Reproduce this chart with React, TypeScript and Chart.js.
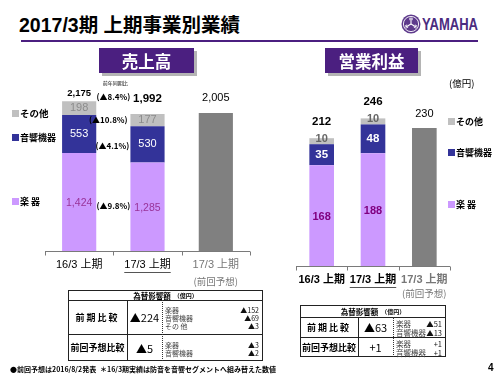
import React, { useEffect, useRef } from "react";
import { Chart, registerables } from "chart.js";

Chart.register(...registerables);

// ---------- data ----------
const categories = ["16/3 上期", "17/3 上期", "17/3 上期"];
const forecastNote = "(前回予想)";
const segmentNames = ["楽 器", "音響機器", "その他"];

const salesInstruments = [1424, 1285, null];
const salesAudio = [553, 530, null];
const salesOther = [198, 177, null];
const salesForecast = [null, null, 2005];
const salesTotals = [2175, 1992, 2005];
// year-on-year changes: total, other, audio, instruments
const salesYoY = ["(▲8.4%)", "(▲10.8%)", "(▲4.1%)", "(▲9.8%)"];

const profitInstruments = [168, 188, null];
const profitAudio = [35, 48, null];
const profitOther = [10, 10, null];
const profitForecast = [null, null, 230];
const profitTotals = [212, 246, 230];

const fxHeader = "為替影響額";
const fxUnit = "（億円）";
const salesFxLabels = ["前期比較", "前回予想比較"];
const salesFxValues = ["▲224", "▲5"];
const salesFxDetails = [
  [["楽器", "▲152"], ["音響機器", "▲69"], ["その 他", "▲3"]],
  [["楽器", "▲3"], ["音響機器", "▲2"]],
];
const profitFxLabels = ["前期比較", "前回予想比較"];
const profitFxValues = ["▲63", "+1"];
const profitFxDetails = [
  [["楽器", "▲51"], ["音響機器", "▲13"]],
  [["楽器", "+1"], ["音響機器", "+1"]],
];

// ---------- styles ----------
const C_INSTR = "#cc99ff";
const C_AUDIO = "#333399";
const C_OTHER = "#c0c0c0";
const C_FORE = "#808080";
const PURPLE = "#4b1f80";
const LAT = "'Liberation Sans', 'Noto Sans CJK JP', sans-serif";
const JP = "'Noto Sans CJK JP', 'Liberation Sans', sans-serif";

const fmt = (v: number) => v.toLocaleString("en-US");

type LabelCfg = {
  totals: number[];
  totalFonts: string[];
  totalOffsets: number[];
  segFonts: string[];
  segColors: string[];
  segDy: number[];
  catFont: string;
  catDy: number;
  noteDy: number;
  noteFont: string;
  extra?: (chart: any) => void;
};

function makeLabels(cfg: LabelCfg) {
  return {
    id: "customLabels",
    afterDatasetsDraw(chart: any) {
      const { ctx, chartArea } = chart;
      const xs = chart.scales.x;
      const ys = chart.scales.y;
      ctx.save();
      // axis line and tick marks
      const n = chart.data.labels.length;
      const step = (chartArea.right - chartArea.left) / n;
      const by = Math.round(chartArea.bottom) + 0.5;
      ctx.strokeStyle = "#7a7a7a";
      ctx.lineWidth = 1;
      ctx.beginPath();
      ctx.moveTo(chartArea.left, by);
      ctx.lineTo(chartArea.right, by);
      for (let i = 0; i <= n; i++) {
        const tx = Math.round(chartArea.left + i * step) + 0.5;
        ctx.moveTo(tx, by);
        ctx.lineTo(tx, by + 4);
      }
      ctx.stroke();

      ctx.textAlign = "center";
      ctx.textBaseline = "middle";
      // segment labels
      chart.data.datasets.forEach((ds: any, di: number) => {
        if (di >= cfg.segFonts.length) return;
        const meta = chart.getDatasetMeta(di);
        meta.data.forEach((el: any, i: number) => {
          const v = ds.data[i];
          if (v == null) return;
          ctx.font = cfg.segFonts[di];
          ctx.fillStyle = cfg.segColors[di];
          ctx.fillText(fmt(v), el.x, (el.y + el.base) / 2 + cfg.segDy[di]);
        });
      });
      // totals
      cfg.totals.forEach((t, i) => {
        ctx.font = cfg.totalFonts[i];
        ctx.fillStyle = "#000";
        ctx.fillText(fmt(t), xs.getPixelForValue(i), ys.getPixelForValue(t) - cfg.totalOffsets[i]);
      });
      // category labels
      chart.data.labels.forEach((lab: string, i: number) => {
        const cx = xs.getPixelForValue(i);
        const cy = chartArea.bottom + cfg.catDy;
        ctx.font = cfg.catFont;
        ctx.fillStyle = i === n - 1 ? "#777" : "#000";
        ctx.fillText(lab, cx, cy);
        if (i === 1) {
          const w = ctx.measureText(lab).width;
          ctx.strokeStyle = "#555";
          ctx.beginPath();
          ctx.moveTo(cx - w / 2, Math.round(cy + 7) + 0.5);
          ctx.lineTo(cx + w / 2, Math.round(cy + 7) + 0.5);
          ctx.stroke();
        }
        if (i === n - 1) {
          ctx.font = cfg.noteFont;
          ctx.fillStyle = "#777";
          ctx.fillText(forecastNote, cx, chartArea.bottom + cfg.noteDy);
        }
      });
      if (cfg.extra) cfg.extra(chart);
      ctx.restore();
    },
  };
}

function barDatasets(instr: any[], audio: any[], other: any[], fore: any[]) {
  return [
    { label: segmentNames[0], data: instr, backgroundColor: C_INSTR, stack: "s" },
    { label: segmentNames[1], data: audio, backgroundColor: C_AUDIO, stack: "s" },
    { label: segmentNames[2], data: other, backgroundColor: C_OTHER, stack: "s" },
    { label: forecastNote, data: fore, backgroundColor: C_FORE, stack: "s" },
  ];
}

function salesYoYDraw(chart: any) {
  const { ctx, chartArea } = chart;
  const ys = chart.scales.y;
  const step = (chartArea.right - chartArea.left) / chart.data.labels.length;
  const cx = chartArea.left + step - 1;
  const seg = (di: number) => {
    const el: any = chart.getDatasetMeta(di).data[1];
    return (el.y + el.base) / 2;
  };
  const yTot = ys.getPixelForValue(salesTotals[1]) - 17;
  ctx.fillStyle = "#000";
  ctx.font = `5px ${JP}`;
  ctx.fillText("前年同期比", cx + 3, yTot - 14);
  ctx.font = `bold 8px ${JP}`;
  ctx.fillText(salesYoY[0], cx + 1, yTot);
  ctx.fillText(salesYoY[1], cx - 4, seg(2));
  ctx.fillText(salesYoY[2], cx, seg(1) + 2);
  ctx.fillText(salesYoY[3], cx + 1, seg(0) - 1);
}

function SalesChart() {
  const ref = useRef<HTMLCanvasElement>(null);
  useEffect(() => {
    const chart = new Chart(ref.current as HTMLCanvasElement, {
      type: "bar",
      data: {
        labels: categories,
        datasets: barDatasets(salesInstruments, salesAudio, salesOther, salesForecast) as any,
      },
      options: {
        responsive: false,
        animation: false,
        layout: { padding: { left: 45, right: 10, top: 79, bottom: 49 } },
        datasets: { bar: { categoryPercentage: 1, barPercentage: 0.5 } },
        scales: {
          x: { display: false, stacked: true },
          y: { display: false, stacked: true, min: 0, max: 2500 },
        },
        plugins: { legend: { display: false }, tooltip: { enabled: false } },
      } as any,
      plugins: [
        makeLabels({
          totals: salesTotals,
          totalFonts: [`bold 9.5px ${LAT}`, `bold 11.5px ${LAT}`, `11px ${LAT}`],
          totalOffsets: [8, 15, 15.5],
          segFonts: [`10.5px ${LAT}`, `11px ${LAT}`, `11px ${LAT}`],
          segColors: ["#993399", "#ffffff", "#8c8c8c"],
          segDy: [1, 0, 0],
          catFont: `11px ${LAT}`,
          catDy: 14,
          noteDy: 30,
          noteFont: `9.5px ${JP}`,
          extra: salesYoYDraw,
        }) as any,
      ],
    });
    return () => chart.destroy();
  }, []);
  return (
    <canvas ref={ref} width={260} height={300} style={{ position: "absolute", left: 0, top: 0 }} />
  );
}

function ProfitChart() {
  const ref = useRef<HTMLCanvasElement>(null);
  useEffect(() => {
    const chart = new Chart(ref.current as HTMLCanvasElement, {
      type: "bar",
      data: {
        labels: categories,
        datasets: barDatasets(profitInstruments, profitAudio, profitOther, profitForecast) as any,
      },
      options: {
        responsive: false,
        animation: false,
        layout: { padding: { left: 36, right: 50, top: 86, bottom: 34 } },
        datasets: { bar: { categoryPercentage: 1, barPercentage: 0.48 } },
        scales: {
          x: { display: false, stacked: true },
          y: { display: false, stacked: true, min: 0, max: 300 },
        },
        plugins: { legend: { display: false }, tooltip: { enabled: false } },
      } as any,
      plugins: [
        makeLabels({
          totals: profitTotals,
          totalFonts: [`bold 11.5px ${LAT}`, `bold 11.5px ${LAT}`, `11px ${LAT}`],
          totalOffsets: [17, 16.5, 14],
          segFonts: [`bold 11px ${LAT}`, `bold 11.5px ${LAT}`, `bold 11px ${LAT}`],
          segColors: ["#800080", "#ffffff", "#666666"],
          segDy: [1, 0, -2],
          catFont: `bold 11px ${LAT}`,
          catDy: 14,
          noteDy: 27,
          noteFont: `9.5px ${JP}`,
        }) as any,
      ],
    });
    return () => chart.destroy();
  }, []);
  return (
    <canvas ref={ref} width={240} height={300} style={{ position: "absolute", left: 260, top: 0 }} />
  );
}

// ---------- html helpers ----------
function Txt({ x, y, children, style }: any) {
  return (
    <div
      style={{
        position: "absolute",
        left: x,
        top: y,
        whiteSpace: "nowrap",
        lineHeight: "12px",
        transform: "translateY(-6px)",
        ...style,
      }}
    >
      {children}
    </div>
  );
}

function LegendItem({ x, y, color, label, size }: any) {
  return (
    <div
      style={{
        position: "absolute",
        left: x,
        top: y - 6,
        height: 12,
        display: "flex",
        alignItems: "center",
        whiteSpace: "nowrap",
        font: `bold ${size}px ${JP}`,
        color: "#000",
      }}
    >
      <div style={{ width: 7, height: 7, background: color, marginRight: 1 }} />
      <span>{label}</span>
    </div>
  );
}

function Cell({ x, y, w, h, children, style }: any) {
  return (
    <div
      style={{
        position: "absolute",
        left: x,
        top: y,
        width: w,
        height: h,
        display: "flex",
        alignItems: "center",
        justifyContent: "center",
        whiteSpace: "nowrap",
        ...style,
      }}
    >
      {children}
    </div>
  );
}

function FxTable({ x, y, w, hHead, h1, h2, c1, c2, labels, values, details, lineH, detFont }: any) {
  const rowsY = [y + hHead, y + hHead + h1];
  const rowsH = [h1, h2];
  const total = hHead + h1 + h2;
  return (
    <>
      <div
        style={{
          position: "absolute",
          left: x,
          top: y,
          width: w,
          height: total,
          border: "1px solid #222",
          boxSizing: "border-box",
        }}
      />
      <div style={{ position: "absolute", left: x, top: y + hHead, width: w, height: 1, background: "#222" }} />
      <div style={{ position: "absolute", left: x, top: y + hHead + h1, width: w, height: 1, background: "#222" }} />
      <div style={{ position: "absolute", left: x + c1, top: y + hHead, width: 1, height: h1 + h2, background: "#222" }} />
      <div
        style={{
          position: "absolute",
          left: x + c2,
          top: y + hHead,
          width: 0,
          height: h1 + h2,
          borderLeft: "1px dotted #333",
        }}
      />
      <Cell x={x} y={y} w={w} h={hHead} style={{ font: `bold 7.5px ${JP}`, color: "#000" }}>
        <span>{fxHeader}</span>
        <span style={{ fontSize: 6, marginLeft: 3 }}>{fxUnit}</span>
      </Cell>
      {labels.map((lab: string, i: number) => (
        <React.Fragment key={i}>
          <Cell x={x} y={rowsY[i]} w={c1} h={rowsH[i]} style={{ font: `bold 9px ${JP}`, letterSpacing: i === 0 ? 2 : 0 }}>
            {lab}
          </Cell>
          <Cell x={x + c1} y={rowsY[i]} w={c2 - c1} h={rowsH[i]} style={{ font: `11px ${JP}` }}>
            {values[i]}
          </Cell>
          <div
            style={{
              position: "absolute",
              left: x + c2 + 3,
              top: rowsY[i],
              width: w - c2 - 7,
              height: rowsH[i],
              display: "flex",
              flexDirection: "column",
              justifyContent: "center",
            }}
          >
            {details[i].map((d: string[], k: number) => (
              <div
                key={k}
                style={{
                  display: "flex",
                  justifyContent: "space-between",
                  height: lineH,
                  lineHeight: `${lineH}px`,
                  font: `${detFont}px ${JP}`,
                  color: "#444",
                }}
              >
                <span>{d[0]}</span>
                <span style={{ color: "#111" }}>{d[1]}</span>
              </div>
            ))}
          </div>
        </React.Fragment>
      ))}
    </>
  );
}

function Logo() {
  return (
    <>
      <svg
        width={20}
        height={20}
        viewBox="0 0 20 20"
        style={{ position: "absolute", left: 401, top: 14 }}
      >
        <circle cx={10} cy={10} r={9.5} fill="#5e3a8c" />
        <circle cx={10} cy={10} r={7.6} fill="none" stroke="#ffffff" strokeWidth={0.9} />
        {[0, 120, 240].map((a) => (
          <g key={a} transform={`rotate(${a} 10 10)`}>
            <line x1={10} y1={10} x2={10} y2={3.6} stroke="#ffffff" strokeWidth={1.1} />
            <line x1={8.8} y1={3.8} x2={8.8} y2={6.2} stroke="#ffffff" strokeWidth={0.8} />
            <line x1={11.2} y1={3.8} x2={11.2} y2={6.2} stroke="#ffffff" strokeWidth={0.8} />
          </g>
        ))}
      </svg>
      <div
        style={{
          position: "absolute",
          left: 422,
          top: 14,
          font: `bold 16.5px ${LAT}`,
          lineHeight: "20px",
          color: "#4b2c80",
          transform: "scaleX(0.79)",
          transformOrigin: "left center",
          whiteSpace: "nowrap",
        }}
      >
        YAMAHA
      </div>
    </>
  );
}

export default function App() {
  return (
    <div
      style={{
        position: "absolute",
        left: 0,
        top: 0,
        width: 500,
        height: 375,
        background: "#fff",
        overflow: "hidden",
        fontFamily: JP,
      }}
    >
      {/* title */}
      <div
        style={{
          position: "absolute",
          left: 19,
          top: 15,
          font: `bold 19.5px ${LAT}`,
          lineHeight: "21px",
          color: "#000",
          whiteSpace: "nowrap",
        }}
      >
        2017/3期 上期事業別業績
      </div>
      <div style={{ position: "absolute", left: 21, top: 40, width: 457, height: 2, background: PURPLE }} />
      <Logo />

      <SalesChart />
      <ProfitChart />

      {/* section boxes */}
      <Cell
        x={99}
        y={48}
        w={95}
        h={25}
        style={{ background: PURPLE, color: "#fff", font: `bold 16.5px ${JP}`, boxShadow: "3px 3px 0 #b4b4b4" }}
      >
        売上高
      </Cell>
      <Cell
        x={325}
        y={48}
        w={93}
        h={25}
        style={{ background: PURPLE, color: "#fff", font: `bold 16.5px ${JP}`, boxShadow: "3px 3px 0 #b4b4b4" }}
      >
        営業利益
      </Cell>

      <Txt x={449} y={82} style={{ font: `9.5px ${JP}` }}>(億円)</Txt>

      {/* legends */}
      <LegendItem x={12} y={113} color={C_OTHER} label={segmentNames[2]} size={9.5} />
      <LegendItem x={12} y={137} color={C_AUDIO} label={segmentNames[1]} size={9} />
      <LegendItem x={12} y={201} color={C_INSTR} label={segmentNames[0]} size={9} />
      <LegendItem x={448} y={121} color={C_OTHER} label={segmentNames[2]} size={9} />
      <LegendItem x={448} y={152} color={C_AUDIO} label={segmentNames[1]} size={9} />
      <LegendItem x={448} y={204} color={C_INSTR} label={segmentNames[0]} size={9} />

      {/* tables */}
      <FxTable
        x={68}
        y={290}
        w={195}
        hHead={10}
        h1={34}
        h2={27}
        c1={59}
        c2={94}
        labels={salesFxLabels}
        values={salesFxValues}
        details={salesFxDetails}
        lineH={8}
        detFont={7}
      />
      <FxTable
        x={300}
        y={305}
        w={146}
        hHead={12}
        h1={20}
        h2={20}
        c1={58}
        c2={93}
        labels={profitFxLabels}
        values={profitFxValues}
        details={profitFxDetails}
        lineH={9}
        detFont={7.5}
      />

      {/* footnotes */}
      <Txt x={10} y={370} style={{ font: `bold 7px ${JP}` }}>●前回予想は2016/8/2発表</Txt>
      <Txt x={100} y={370} style={{ font: `bold 7px ${JP}` }}>＊16/3期実績は防音を音響セグメントへ組み替えた数値</Txt>
      <Txt x={488} y={368} style={{ font: `bold 10px ${LAT}` }}>4</Txt>
    </div>
  );
}
